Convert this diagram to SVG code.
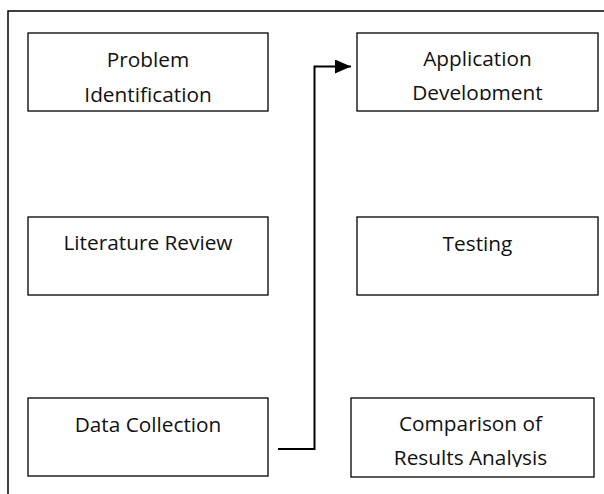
<svg xmlns="http://www.w3.org/2000/svg" width="604" height="494" viewBox="0 0 604 494">
<style>
.box{fill:#fff;stroke:#000;stroke-width:1.3}
.t{font-family:"Open Sans","Noto Sans","Liberation Sans",sans-serif;font-size:20.8px;fill:#111;text-anchor:middle}
.c{fill:none;stroke:#000;stroke-width:2}
</style>
<defs>
<marker id="ah" markerWidth="16" markerHeight="14" refX="16" refY="7" orient="auto" markerUnits="userSpaceOnUse">
<path d="M0,0 L16,7 L0,14 Z" fill="#000"/>
</marker>
<clipPath id="clipApp"><rect x="357" y="33" width="241" height="67"/></clipPath>
<clipPath id="clipCmp"><rect x="351" y="398" width="243" height="69"/></clipPath>
</defs>
<rect x="8" y="11" width="700" height="600" fill="#fff" stroke="#000" stroke-width="1.5"/>
<g id="problem"><rect class="box" x="28" y="33" width="240" height="78"/><text class="t" x="148" y="67">Problem</text><text class="t" x="148" y="101.5">Identification</text></g>
<g id="literature"><rect class="box" x="28" y="217" width="240" height="78"/><text class="t" x="148" y="250">Literature Review</text></g>
<g id="data"><rect class="box" x="28" y="398" width="240" height="78"/><text class="t" x="148" y="431.5">Data Collection</text></g>
<g id="application"><rect class="box" x="357" y="33" width="241" height="78"/><g clip-path="url(#clipApp)"><text class="t" x="477.5" y="65.5">Application</text><text class="t" x="477.5" y="99.5">Development</text></g></g>
<g id="testing"><rect class="box" x="357" y="217" width="241" height="78"/><text class="t" x="477.5" y="250.5">Testing</text></g>
<g id="comparison"><rect class="box" x="351" y="398" width="243" height="79"/><g clip-path="url(#clipCmp)"><text class="t" x="470.5" y="430.5">Comparison of</text><text class="t" x="470.5" y="465">Results Analysis</text></g></g>
<g id="connectors"><path class="c" d="M278,449 H314.5 V66.5 H351" marker-end="url(#ah)"/></g>
</svg>
